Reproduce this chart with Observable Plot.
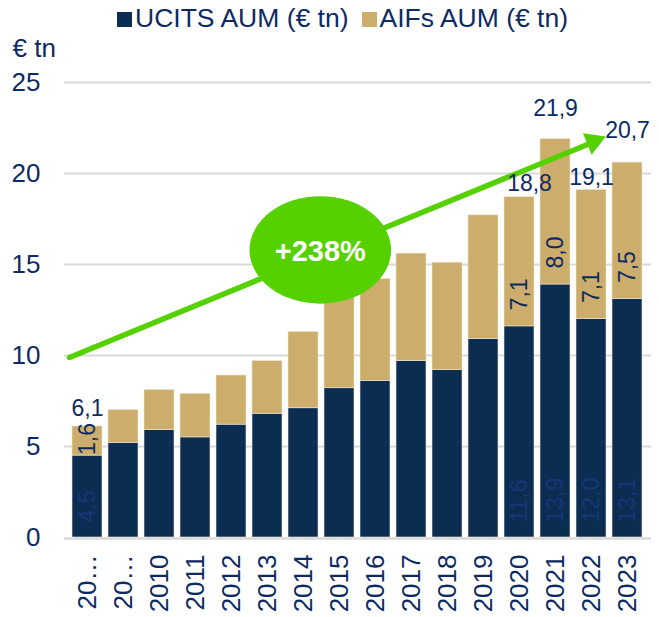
<!DOCTYPE html>
<html>
<head>
<meta charset="utf-8">
<script src="https://cdn.jsdelivr.net/npm/d3@7"></script>
<script src="https://cdn.jsdelivr.net/npm/@observablehq/plot@0.6"></script>
<style>
  body { margin: 0; background: #fff; font-family: "Liberation Sans", Arial, sans-serif; }
  #legend { height: 36px; display: flex; align-items: center; padding-left: 117px; font-size: 26.5px; color: #0d2b62; white-space: nowrap; }
  .item { display: flex; align-items: center; margin-right: 13px; }
  .sw { display: inline-block; width: 15px; height: 15px; margin-right: 3px; position: relative; top: 1px; }
</style>
</head>
<body>
<div id="legend"></div>
<div id="chart"></div>
<script>
// ---- data ----
const years = ["2008","2009","2010","2011","2012","2013","2014","2015","2016","2017","2018","2019","2020","2021","2022","2023"];
const xTickLabels = ["20…","20…","2010","2011","2012","2013","2014","2015","2016","2017","2018","2019","2020","2021","2022","2023"];
const ucits = [4.5, 5.2, 5.9, 5.5, 6.2, 6.8, 7.1, 8.2, 8.6, 9.7, 9.2, 10.9, 11.6, 13.9, 12.0, 13.1];
const aifs  = [1.6, 1.8, 2.2, 2.4, 2.7, 2.9, 4.2, 5.5, 5.6, 5.9, 5.9, 6.8, 7.1, 8.0, 7.1, 7.5];
const totals = [6.1, 7.0, 8.1, 7.9, 8.9, 9.7, 11.3, 13.7, 14.2, 15.6, 15.1, 17.7, 18.8, 21.9, 19.1, 20.7];
const labelledYears = ["2008","2020","2021","2022","2023"];
const seriesNames = ["UCITS AUM (€ tn)", "AIFs AUM (€ tn)"];
const seriesColors = ["#0c2d52", "#ccad6b"];
const yTicks = [0, 5, 10, 15, 20, 25];
const yUnit = "€ tn";
const growthArrow = [{from: "2008", fromValue: 10.3, to: "2023", toValue: 22.5}];
const badge = [{year: "2014", value: 15.8, text: "+238%"}];

// ---- styles ----
const navy = "#0d2b62";
const green = "#55d100";
const font = "Liberation Sans, Arial, sans-serif";
const fmt = v => v.toFixed(1).replace(".", ",");

// ---- legend ----
const legend = d3.select("#legend");
seriesNames.forEach((s, i) => {
  const it = legend.append("span").attr("class", "item");
  it.append("span").attr("class", "sw").style("background", seriesColors[i]);
  it.append("span").text(s);
});

// ---- table ----
const rows = years.map((year, i) => ({year, ucits: ucits[i], aifs: aifs[i], total: totals[i]}));
const long = [
  ...rows.map(r => ({year: r.year, series: seriesNames[0], value: r.ucits})),
  ...rows.map(r => ({year: r.year, series: seriesNames[1], value: r.aifs}))
];
const labelled = rows.filter(r => labelledYears.includes(r.year));
const tickLabelOf = new Map(years.map((y, i) => [y, xTickLabels[i]]));
const totalText = d => fmt(d.total);

const chart = Plot.plot({
  width: 659,
  height: 581,
  marginTop: 46,
  marginBottom: 80,
  marginLeft: 64,
  marginRight: 8,
  style: {fontFamily: font, fontSize: "26px", color: navy, background: "#fff", overflow: "visible"},
  x: {domain: years, paddingInner: 0.155, paddingOuter: 0.074, tickFormat: d => tickLabelOf.get(d),
      tickRotate: -90, tickSize: 0, tickPadding: 17, label: null},
  y: {domain: [0, 25], ticks: yTicks, tickSize: 0, tickPadding: 24, label: null},
  color: {domain: seriesNames, range: seriesColors},
  marks: [
    Plot.ruleY(yTicks.filter(d => d > 0), {stroke: "#d9d9d9", strokeWidth: 2}),
    Plot.ruleY([0], {stroke: "#d9d9d9", strokeWidth: 2.5, dy: 1}),
    Plot.barY(long, {x: "year", y: "value", fill: "series", stroke: "#efe6d2", strokeWidth: 0.6}),
    // UCITS labels (rotated, at bar base)
    Plot.text(labelled, {x: "year", y: 0, text: d => fmt(d.ucits), rotate: -90, textAnchor: "start",
      dy: -15, fill: "#163677", fontSize: 23}),
    // AIF labels
    Plot.text(labelled.filter(d => d.year !== "2008"), {x: "year", y: "ucits", text: d => fmt(d.aifs), rotate: -90,
      textAnchor: "start", dy: -16, fill: navy, fontSize: 23}),
    Plot.text(labelled.filter(d => d.year === "2008"), {x: "year", y: d => d.ucits + d.aifs / 2, text: d => fmt(d.aifs),
      rotate: -90, textAnchor: "middle", dy: -2, fill: navy, fontSize: 23}),
    // growth arrow
    Plot.arrow(growthArrow, {x1: "from", y1: "fromValue", x2: "to", y2: "toValue", insetStart: -19.5, insetEnd: 36,
      headLength: 0, stroke: green, strokeWidth: 5.5}),
    Plot.dot(growthArrow, {x: "to", y: "toValue", dx: -34, dy: 13.6, symbol: "triangle", r: 8.6, fill: green,
      rotate: 68, stroke: "none"}),
    // badge
    Plot.dot(badge, {x: "year", y: "value", dx: 16.8, r: 53.7, fill: green, stroke: "none"}),
    Plot.text(badge, {x: "year", y: "value", dx: 16.8, dy: 2, text: "text", fill: "#fff", fontWeight: "bold", fontSize: 29}),
    // totals
    Plot.text(labelled.filter(d => d.year === "2008"), {x: "year", y: "total", text: totalText, dy: -18, fill: navy, fontSize: 23}),
    Plot.text(labelled.filter(d => d.year === "2020"), {x: "year", y: "total", text: totalText, dx: 10, dy: -12, fill: navy, fontSize: 23}),
    Plot.text(labelled.filter(d => d.year === "2022"), {x: "year", y: "total", text: totalText, dy: -12, fill: navy, fontSize: 23}),
    Plot.text(labelled.filter(d => d.year === "2021" || d.year === "2023"), {x: "year", y: "total", text: totalText, dy: -30, fill: navy, fontSize: 23}),
    // unit label
    Plot.text([yUnit], {frameAnchor: "top-left", text: d => d, dx: -52, dy: -34, textAnchor: "start", lineAnchor: "middle", fill: navy, fontSize: 26})
  ]
});

document.getElementById("chart").appendChild(chart);

// stretch the badge circle into an ellipse
d3.select(chart).selectAll("circle").filter(function () { return this.r.baseVal.value > 40; }).each(function () {
  const cx = this.cx.baseVal.value, cy = this.cy.baseVal.value;
  this.setAttribute("transform", `translate(${cx},${cy}) scale(1.318,1) translate(${-cx},${-cy})`);
});
</script>
</body>
</html>
